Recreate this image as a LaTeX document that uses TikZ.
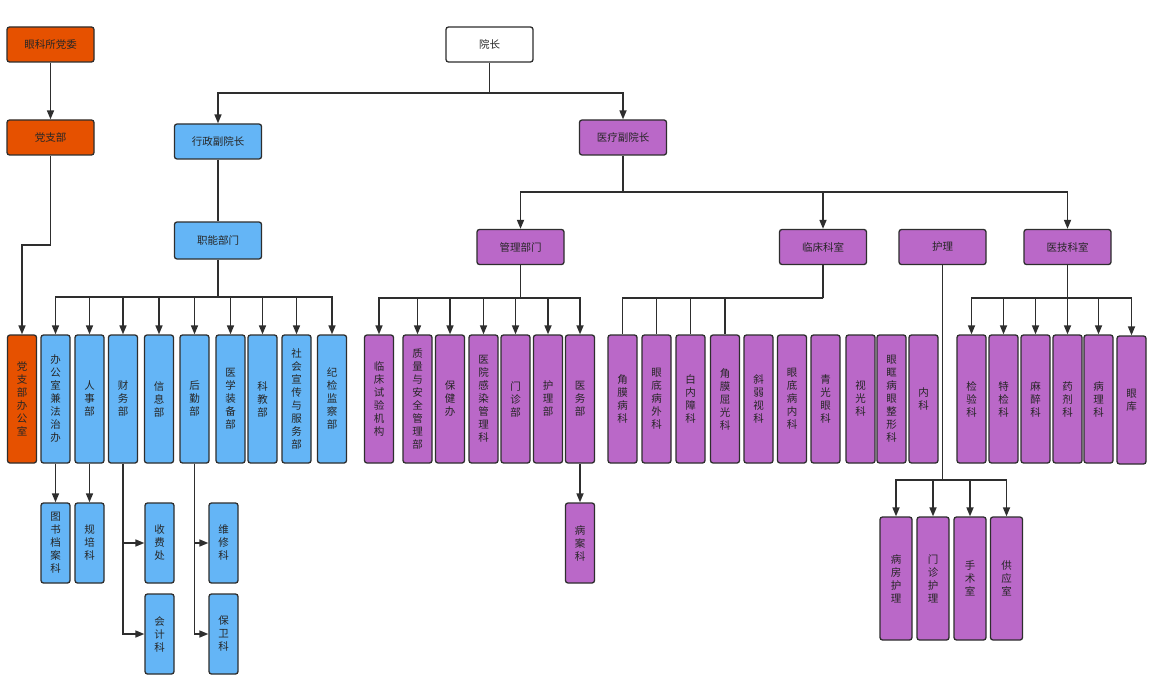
\documentclass[tikz,border=0pt]{standalone}
\usepackage{fontspec}
\newfontfamily\cjk{Noto Sans CJK SC}
\usetikzlibrary{arrows.meta}
\definecolor{partyorange}{HTML}{E65100}
\definecolor{adminblue}{HTML}{64B5F6}
\definecolor{medpurple}{HTML}{BA68C8}
\definecolor{edgegray}{HTML}{2E2E2E}
\tikzset{
  box/.style={draw=edgegray, line width=1.3pt, rounded corners=2.5pt, inner sep=0pt,
    align=center, font=\cjk\fontsize{10.5}{13}\selectfont, text=black!85},
  hbox/.style={box, minimum width=87pt, minimum height=35pt},
  vbox/.style={box, minimum width=29pt, minimum height=128pt},
  sbox/.style={box, minimum width=29pt, minimum height=80pt},
  nbox/.style={box, minimum width=32pt, minimum height=123pt},
  party/.style={fill=partyorange},
  admin/.style={fill=adminblue},
  med/.style={fill=medpurple},
  conn/.style={draw=edgegray, line width=1.6pt},
  arr/.style={conn, -{Triangle[length=9pt,width=7pt]}},
}
\begin{document}
\begin{tikzpicture}[x=1pt,y=-1pt]
\useasboundingbox[fill=white] (0,0) rectangle (1158,695);
%top level
\node[hbox,party] (dw) at (50.5,44.5) {眼科所党委};
\node[hbox,party] (dzb) at (50.5,137.5) {党支部};
\node[hbox,fill=white] (yz) at (489.5,44.5) {院长};
\node[hbox,admin] (xz) at (218,141.5) {行政副院长};
\node[hbox,med] (yl) at (623,137.5) {医疗副院长};
\node[hbox,admin,minimum height=37pt] (zn) at (218,240.5) {职能部门};
\node[hbox,med] (gl) at (520.5,247) {管理部门};
\node[hbox,med] (lc) at (823,247) {临床科室};
\node[hbox,med] (hl) at (942.5,247) {护理};
\node[hbox,med] (yj) at (1067.5,247) {医技科室};
%party and functional departments
\node[vbox,party] (dbo) at (22,399) {党\\支\\部\\办\\公\\室};
\node[vbox,admin] (bgs) at (55.5,399) {办\\公\\室\\兼\\法\\治\\办};
\node[vbox,admin] (rs) at (89.5,399) {人\\事\\部};
\node[vbox,admin] (cw) at (123,399) {财\\务\\部};
\node[vbox,admin] (xx) at (159,399) {信\\息\\部};
\node[vbox,admin] (hq) at (194.5,399) {后\\勤\\部};
\node[vbox,admin] (zb) at (230.5,399) {医\\学\\装\\备\\部};
\node[vbox,admin] (kj) at (262.5,399) {科\\教\\部};
\node[vbox,admin] (sh) at (296.5,399) {社\\会\\宣\\传\\与\\服\\务\\部};
\node[vbox,admin] (jj) at (332,399) {纪\\检\\监\\察\\部};
%management departments
\node[vbox,med] (lcsy) at (379,399) {临\\床\\试\\验\\机\\构};
\node[vbox,med] (zl) at (417.5,399) {质\\量\\与\\安\\全\\管\\理\\部};
\node[vbox,med] (bj) at (450,399) {保\\健\\办};
\node[vbox,med] (gr) at (483.5,399) {医\\院\\感\\染\\管\\理\\科};
\node[vbox,med] (mz) at (515.5,399) {门\\诊\\部};
\node[vbox,med] (hlb) at (548,399) {护\\理\\部};
\node[vbox,med] (yw) at (580,399) {医\\务\\部};
%clinical departments
\node[vbox,med] (jm) at (622.5,399) {角\\膜\\病\\科};
\node[vbox,med] (ydw) at (656.5,399) {眼\\底\\病\\外\\科};
\node[vbox,med] (bnz) at (690.5,399) {白\\内\\障\\科};
\node[vbox,med] (qg) at (725,399) {角\\膜\\屈\\光\\科};
\node[vbox,med] (xr) at (758.5,399) {斜\\弱\\视\\科};
\node[vbox,med] (ydn) at (792,399) {眼\\底\\病\\内\\科};
\node[vbox,med] (qgy) at (825.5,399) {青\\光\\眼\\科};
\node[vbox,med] (sg) at (860.5,399) {视\\光\\科};
\node[vbox,med] (yk) at (891.5,399) {眼\\眶\\病\\眼\\整\\形\\科};
\node[vbox,med] (nk) at (923.5,399) {内\\科};
%medical technology
\node[vbox,med] (jy) at (971.5,399) {检\\验\\科};
\node[vbox,med] (tj) at (1003.5,399) {特\\检\\科};
\node[vbox,med] (mzk) at (1035.5,399) {麻\\醉\\科};
\node[vbox,med] (yjk) at (1067.5,399) {药\\剂\\科};
\node[vbox,med] (bl) at (1098.5,399) {病\\理\\科};
\node[vbox,med] (ykk) at (1131.5,400) {眼\\库};
%lower level
\node[sbox,admin] (tsda) at (55.5,543) {图\\书\\档\\案\\科};
\node[sbox,admin] (gp) at (89.5,543) {规\\培\\科};
\node[sbox,admin] (sf) at (159.5,543) {收\\费\\处};
\node[sbox,admin] (kjk) at (159.5,634) {会\\计\\科};
\node[sbox,admin] (wx) at (223.5,543) {维\\修\\科};
\node[sbox,admin] (bw) at (223.5,634) {保\\卫\\科};
\node[sbox,med] (ba) at (580,543) {病\\案\\科};
\node[nbox,med] (bf) at (896,578.5) {病\\房\\护\\理};
\node[nbox,med] (mzhl) at (933,578.5) {门\\诊\\护\\理};
\node[nbox,med] (ss) at (970,578.5) {手\\术\\室};
\node[nbox,med] (gy) at (1006.5,578.5) {供\\应\\室};
%bus points
\coordinate (yzbus) at (489.5,93);
\coordinate (ylbus) at (623,192);
\coordinate (dzbturn) at (22,245);
\coordinate (znbus) at (218,297);
\coordinate (glbus) at (520.5,298);
\coordinate (lcbus) at (823,298);
\coordinate (hlbus) at (942.5,480);
\coordinate (yjbus) at (1067.5,298);
%connectors
\draw[arr] (dw) -- (dzb);
\draw[arr] (dzb.south) |- (dzbturn) -- (dbo.north);
\draw[conn] (yz) -- (yzbus);
\draw[arr] (yzbus) -| (xz);
\draw[arr] (yzbus) -| (yl);
\draw[conn] (xz) -- (zn);
\draw[conn] (yl) -- (ylbus);
\foreach \n in {gl,lc,yj}
  \draw[arr] (ylbus) -| (\n);
\draw[conn] (zn) -- (znbus);
\foreach \n in {bgs,rs,cw,xx,hq,zb,kj,sh,jj}
  \draw[arr] (znbus) -| (\n);
\draw[conn] (gl) -- (glbus);
\foreach \n in {lcsy,zl,bj,gr,mz,hlb,yw}
  \draw[arr] (glbus) -| (\n);
\draw[conn] (lc) -- (lcbus);
\foreach \n in {jm,ydw,bnz,qg}
  \draw[conn] (lcbus) -| (\n.north);
\draw[conn] (hl) -- (hlbus);
\foreach \n in {bf,mzhl,ss,gy}
  \draw[arr] (hlbus) -| (\n);
\draw[conn] (yj) -- (yjbus);
\foreach \n in {jy,tj,mzk,yjk,bl,ykk}
  \draw[arr] (yjbus) -| (\n);
\draw[arr] (bgs) -- (tsda);
\draw[arr] (rs) -- (gp);
\draw[arr] (cw.south) |- (sf.west);
\draw[arr] (cw.south) |- (kjk.west);
\draw[arr] (hq.south) |- (wx.west);
\draw[arr] (hq.south) |- (bw.west);
\draw[arr] (yw) -- (ba);
\end{tikzpicture}
\end{document}
